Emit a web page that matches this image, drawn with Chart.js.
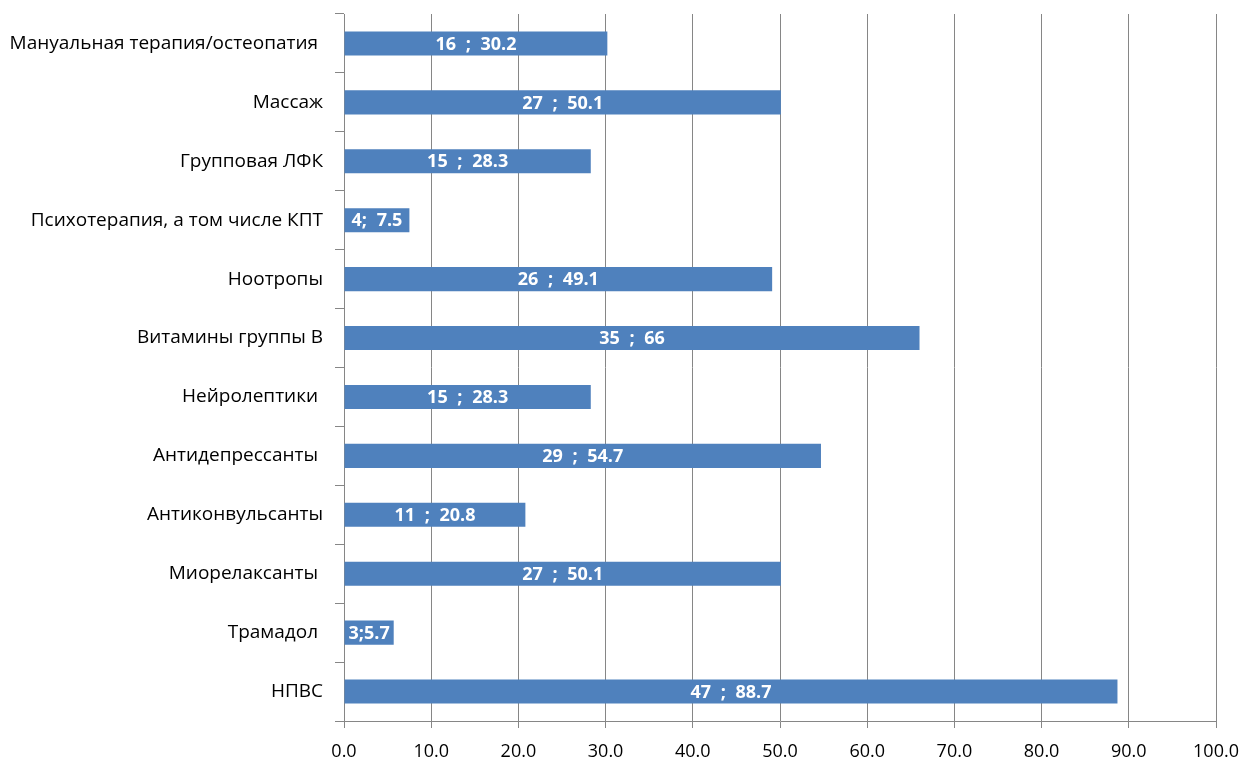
<!DOCTYPE html>
<html>
<head>
  <title>Chart</title>
  <script src="https://cdn.jsdelivr.net/npm/chart.js"></script>
  <style>
    body { margin: 0; background: #fff; }
    #wrap { width: 1243px; height: 758px; }
  </style>
</head>
<body>
  <div id="wrap"><canvas id="myChart" width="1243" height="758"></canvas></div>

  <script>
    const categories = [
      'Мануальная терапия/остеопатия ',
      'Массаж',
      'Групповая ЛФК',
      'Психотерапия, а том числе КПТ',
      'Ноотропы',
      'Витамины группы В',
      'Нейролептики ',
      'Антидепрессанты ',
      'Антиконвульсанты',
      'Миорелаксанты ',
      'Трамадол ',
      'НПВС'
    ];
    const counts = [16, 27, 15, 4, 26, 35, 15, 29, 11, 27, 3, 47];
    const percents = [30.2, 50.1, 28.3, 7.5, 49.1, 66, 28.3, 54.7, 20.8, 50.1, 5.7, 88.7];
    const barLabels = ['16 ; 30.2', '27 ; 50.1', '15 ; 28.3', '4; 7.5', '26 ; 49.1', '35 ; 66',
      '15 ; 28.3', '29 ; 54.7', '11 ; 20.8', '27 ; 50.1', '3;5.7', '47 ; 88.7'];

    const FONT = "'Open Sans', 'Noto Sans', sans-serif";

    // white labels in the middle of each bar
    const barText = {
      id: 'barText',
      afterDatasetsDraw(chart) {
        const ctx = chart.ctx;
        const meta = chart.getDatasetMeta(0);
        ctx.save();
        ctx.fillStyle = '#ffffff';
        ctx.font = 'bold 18px ' + FONT;
        ctx.wordSpacing = '5px';
        ctx.textAlign = 'center';
        ctx.textBaseline = 'middle';
        meta.data.forEach((bar, i) => {
          const x = (bar.x + bar.base) / 2;
          ctx.fillText(barLabels[i], x, bar.y + 1);
        });
        ctx.restore();
      }
    };

    const ctx = document.getElementById('myChart').getContext('2d');
    const myChart = new Chart(ctx, {
      type: 'bar',
      data: {
        labels: categories,
        datasets: [{
          data: percents,
          backgroundColor: '#4f81bd',
          borderWidth: 0,
          barPercentage: 0.82,
          categoryPercentage: 0.5
        }]
      },
      options: {
        indexAxis: 'y',
        responsive: false,
        animation: false,
        layout: { padding: { top: 14, right: 27, left: 0, bottom: 0 } },
        plugins: {
          legend: { display: false },
          tooltip: { enabled: false }
        },
        scales: {
          x: {
            min: 0,
            max: 100,
            ticks: {
              stepSize: 10,
              color: '#000',
              font: { family: FONT, size: 18 },
              padding: 13,
              callback: (v) => v.toFixed(1)
            },
            grid: { color: '#868686', tickLength: 7, lineWidth: 1 },
            border: { color: '#868686' },
            afterFit: (s) => { s.height = 37; s.paddingLeft = 0; s.paddingRight = 0; }
          },
          y: {
            ticks: {
              color: '#000',
              font: { family: FONT, size: 19 },
              padding: 12
            },
            grid: { drawOnChartArea: false, color: '#868686', tickLength: 9, offset: true },
            border: { color: '#868686' },
            afterFit: (s) => { s.width = 344; s.paddingTop = 0; s.paddingBottom = 0; }
          }
        }
      },
      plugins: [barText]
    });
  </script>
</body>
</html>
